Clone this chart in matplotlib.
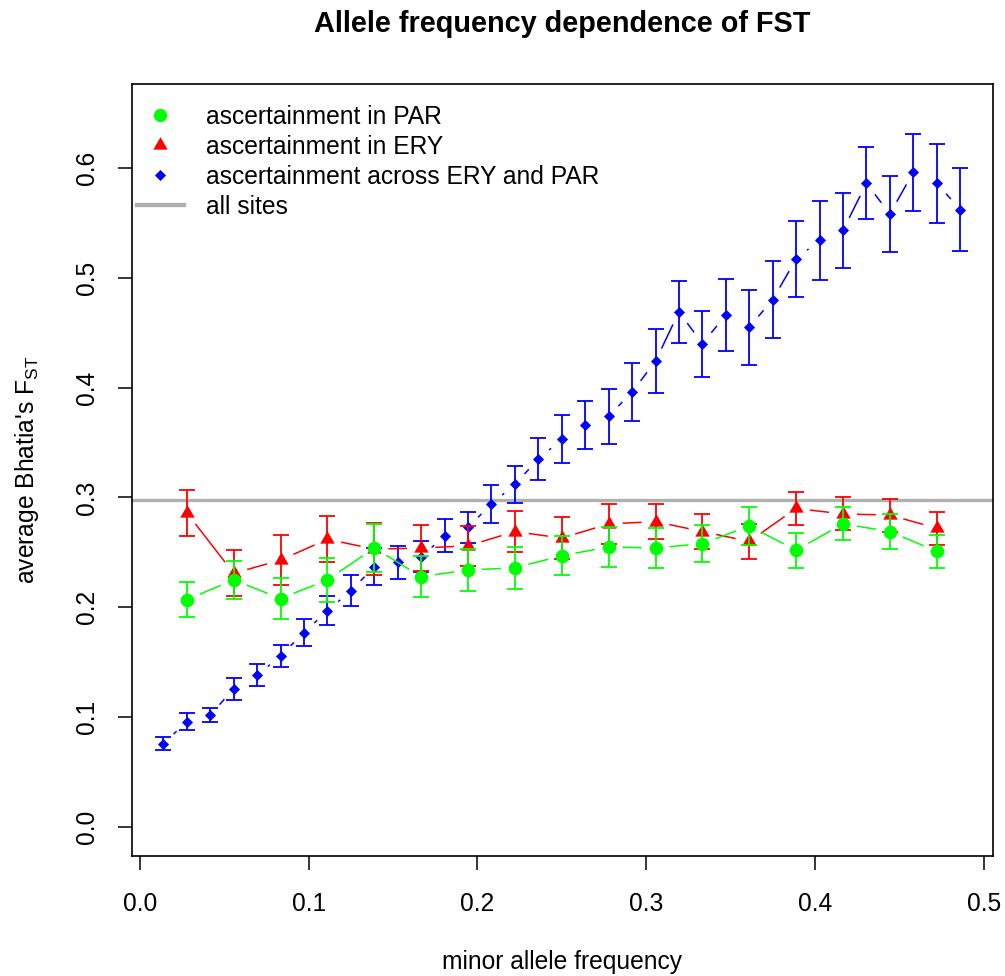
import numpy as np
import matplotlib
matplotlib.use("Agg")
import matplotlib.pyplot as plt
from matplotlib.lines import Line2D
from matplotlib.collections import LineCollection

plt.rcParams['font.family'] = ['Liberation Sans', 'DejaVu Sans']
plt.rcParams['mathtext.fontset'] = 'custom'
plt.rcParams['mathtext.rm'] = 'Liberation Sans'

# ---------------- data ----------------
# minor allele frequency bins
maf_fine = np.arange(1, 36) / 72.0      # across ERY and PAR
maf_coarse = np.arange(1, 18) / 36.0    # single-population ascertainment

fst_par = [0.207, 0.225, 0.208, 0.225, 0.254, 0.228, 0.234, 0.236, 0.247,
           0.255, 0.254, 0.258, 0.274, 0.252, 0.276, 0.269, 0.251]
err_par = [0.016, 0.017, 0.019, 0.020, 0.022, 0.019, 0.019, 0.019, 0.018,
           0.018, 0.018, 0.017, 0.017, 0.016, 0.015, 0.016, 0.015]

fst_ery = [0.286, 0.231, 0.243, 0.262, 0.253, 0.254, 0.256, 0.269, 0.263,
           0.276, 0.278, 0.269, 0.260, 0.290, 0.285, 0.284, 0.272]
err_ery = [0.021, 0.021, 0.023, 0.021, 0.024, 0.021, 0.018, 0.019, 0.019,
           0.018, 0.016, 0.016, 0.016, 0.015, 0.015, 0.015, 0.015]

fst_both = [0.076, 0.096, 0.102, 0.126, 0.138, 0.156, 0.177, 0.197, 0.215,
            0.237, 0.241, 0.246, 0.265, 0.273, 0.294, 0.312, 0.335, 0.353,
            0.366, 0.374, 0.396, 0.424, 0.469, 0.440, 0.466, 0.455, 0.480,
            0.517, 0.534, 0.543, 0.586, 0.558, 0.596, 0.586, 0.562]
err_both = [0.006, 0.008, 0.006, 0.010, 0.010, 0.010, 0.012, 0.013, 0.014,
            0.017, 0.015, 0.014, 0.015, 0.014, 0.017, 0.017, 0.019, 0.022,
            0.022, 0.025, 0.026, 0.029, 0.028, 0.030, 0.033, 0.034, 0.035,
            0.035, 0.036, 0.034, 0.033, 0.035, 0.035, 0.036, 0.038]

fst_all_sites = 0.298

xticks = [0.0, 0.1, 0.2, 0.3, 0.4, 0.5]
yticks = [0.0, 0.1, 0.2, 0.3, 0.4, 0.5, 0.6]
labels = ["ascertainment in PAR", "ascertainment in ERY",
          "ascertainment across ERY and PAR", "all sites"]

# ---------------- figure ----------------
W, H = 1005, 976
FS = 17.75
fig = plt.figure(figsize=(W / 100, H / 100), dpi=100)
ax = fig.add_axes([131.7 / W, 1 - 855.7 / H, (992.7 - 131.7) / W, (855.7 - 84.3) / H])

ax.set_xlim(-0.0049, 0.5054)
ax.set_ylim(-0.026, 0.676)

tri = [(0, 1), (-0.866, -0.5), (0.866, -0.5)]
dia = [(0, 1), (1, 0), (0, -1), (-1, 0)]

GAP = 14.0  # px gap between connecting lines and points (R type="b")


def gapped(xs, ys):
    pts = ax.transData.transform(np.column_stack([xs, ys]))
    inv = ax.transData.inverted()
    segs = []
    for p0, p1 in zip(pts[:-1], pts[1:]):
        d = p1 - p0
        L = np.hypot(d[0], d[1])
        if L <= 2 * GAP:
            continue
        u = d / L
        segs.append(inv.transform(np.array([p0 + u * GAP, p1 - u * GAP])))
    return segs


series = [
    (maf_fine, fst_both, err_both, '#0000FF', dia, 8.0, 2),
    (maf_coarse, fst_ery, err_ery, '#FF0000', tri, 12.0, 3),
    (maf_coarse, fst_par, err_par, '#00FF00', 'o', 9.8, 4),
]

ax.axhline(fst_all_sites, color='#b0b0b0', lw=2.4, zorder=1)

for xs, ys, es, col, mk, ms, z in series:
    lc = LineCollection(gapped(xs, ys), colors=col, linewidths=1.1, zorder=z)
    ax.add_collection(lc)
    ax.errorbar(xs, ys, yerr=es, fmt='none', ecolor=col, elinewidth=1.3,
                capsize=5.8, capthick=1.3, zorder=z)
    ax.plot(xs, ys, linestyle='none', marker=mk, markersize=ms, color=col,
            markeredgewidth=0, zorder=z + 0.1)

# ---------------- axes styling ----------------
ax.set_xticks(xticks)
ax.set_xticklabels([f"{v:.1f}" for v in xticks])
ax.set_yticks(yticks)
ax.set_yticklabels([f"{v:.1f}" for v in yticks])
ax.tick_params(axis='both', labelsize=FS, length=10.4, width=1.1,
               direction='out', colors='black')
ax.tick_params(axis='x', pad=16.0)
ax.tick_params(axis='y', pad=13.5, labelrotation=90)
for lab in ax.get_yticklabels():
    lab.set_va('center')
for sp in ax.spines.values():
    sp.set_linewidth(1.2)

ax.set_xlabel("minor allele frequency", fontsize=FS)
ax.xaxis.set_label_coords(0.5, -(950.0 - 855.7) / (855.7 - 84.3))
ax.set_ylabel(r"average Bhatia's F$_{\mathregular{ST}}$", fontsize=FS)
ax.yaxis.set_label_coords(-(131.7 - 41) / (992.7 - 131.7), 0.5)

fig.text((131.7 + 992.7) / 2 / W, 1 - 24 / H, "Allele frequency dependence of FST",
         ha='center', va='center', fontsize=20.75, fontweight='bold')

# ---------------- legend ----------------
handles = [
    Line2D([], [], linestyle='none', marker='o', markersize=9.6, color='#00FF00', markeredgewidth=0),
    Line2D([], [], linestyle='none', marker=tri, markersize=12.0, color='#FF0000', markeredgewidth=0),
    Line2D([], [], linestyle='none', marker=dia, markersize=8.0, color='#0000FF', markeredgewidth=0),
    Line2D([], [], color='#b0b0b0', lw=3.1),
]
ax.legend(handles, labels, loc='upper left',
          bbox_to_anchor=((136.7 - 131.7) / (992.7 - 131.7), 1 - (105 - 84.3) / (855.7 - 84.3)),
          frameon=False, fontsize=FS, borderpad=0, borderaxespad=0,
          handlelength=1.93, handletextpad=0.88, labelspacing=0.24)

fig.savefig("out.png", dpi=100)
